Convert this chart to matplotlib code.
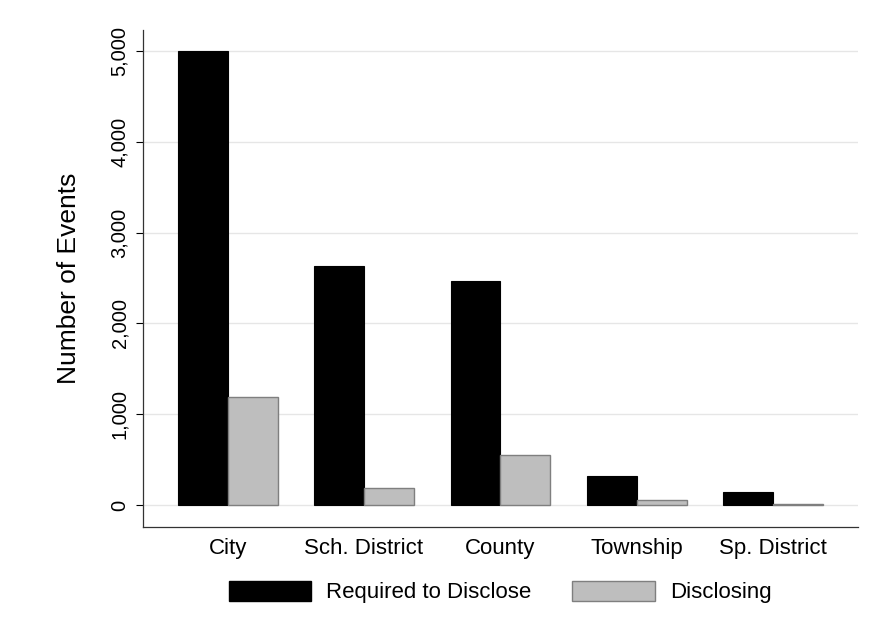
import numpy as np
import matplotlib.pyplot as plt
from matplotlib.patches import Patch

# data
categories = ["City", "Sch. District", "County", "Township", "Sp. District"]
required = [5000, 2635, 2465, 320, 148]
disclosing = [1190, 190, 550, 55, 15]

plt.rcParams['font.family'] = ['Liberation Sans', 'DejaVu Sans']

fig = plt.figure(figsize=(8.7, 6.39), dpi=100)
ax = fig.add_axes([143/870, 1 - 527/639, (858-143)/870, (527-30)/639])

x = np.arange(len(categories))
w = 0.366
ax.bar(x - w/2, required, w, color='black', edgecolor='black', linewidth=0.8, zorder=3)
ax.bar(x + w/2, disclosing, w, color='#bebebe', edgecolor='#7f7f7f', linewidth=1.0, zorder=3)

ax.set_xlim(-0.62, 4.62)
ax.set_ylim(-242, 5231)
ax.set_yticks([0, 1000, 2000, 3000, 4000, 5000])
ax.set_yticklabels(["0", "1,000", "2,000", "3,000", "4,000", "5,000"],
                   rotation=90, va='center', fontsize=14.5)
ax.set_xticks(x)
ax.set_xticklabels(categories, fontsize=16)
ax.tick_params(axis='x', length=0, pad=8)
ax.tick_params(axis='y', length=5, width=0.8, pad=5)
ax.grid(axis='y', color='#e6e6e6', linewidth=1.0, zorder=0)
ax.set_ylabel("Number of Events", fontsize=19, labelpad=21)

for s in ['top', 'right']:
    ax.spines[s].set_visible(False)
for s in ['left', 'bottom']:
    ax.spines[s].set_linewidth(0.9)
    ax.spines[s].set_color('#333333')

handles = [Patch(facecolor='black', edgecolor='black', label='Required to Disclose'),
           Patch(facecolor='#bebebe', edgecolor='#7f7f7f', label='Disclosing')]
fig.legend(handles=handles, loc='center', bbox_to_anchor=(500/870, 1 - 592/639),
           ncol=2, frameon=False, fontsize=16, handlelength=3.7, handleheight=1.0,
           columnspacing=1.85, handletextpad=0.68)

fig.savefig("out.png", dpi=100)
